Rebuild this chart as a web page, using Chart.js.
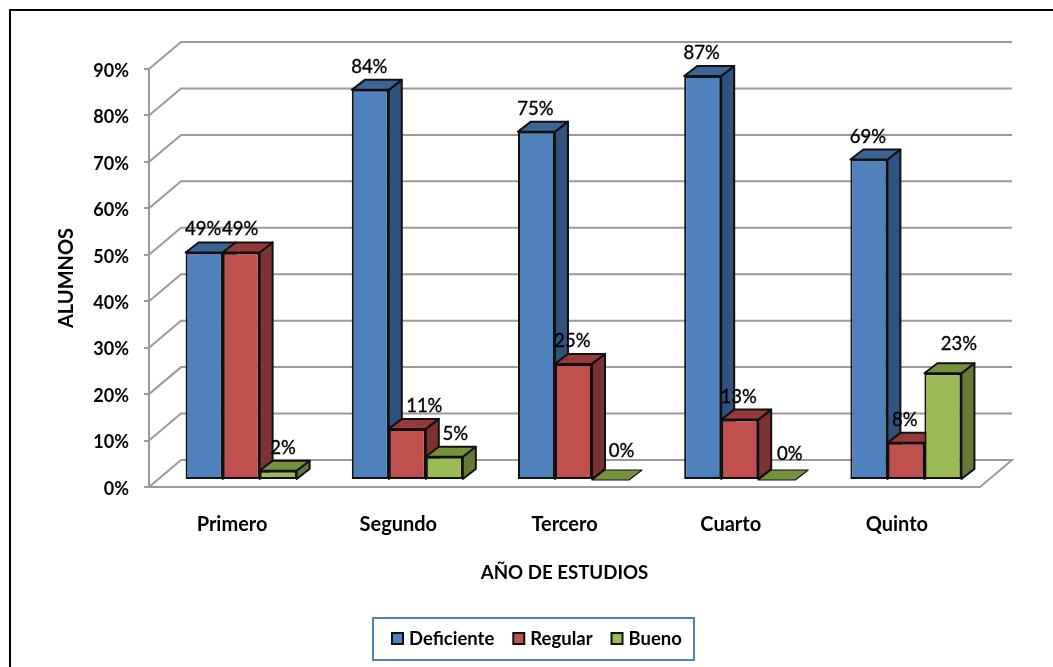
<!DOCTYPE html>
<html>
<head>
<meta charset="utf-8">
<title>Año de estudios</title>
<script src="https://cdn.jsdelivr.net/npm/chart.js@4"></script>
<style>
    html, body { margin: 0; padding: 0; background: #fff; overflow: hidden; }
    canvas { display: block; }
</style>
</head>
<body>
<canvas id="grafico" width="1053" height="667"></canvas>
<script>
let years = ["Primero", "Segundo", "Tercero", "Cuarto", "Quinto"];
let deficiente = [49, 84, 75, 87, 69];
let regular = [49, 11, 25, 13, 8];
let bueno = [2, 5, 0, 0, 23];

let fontName = "Lato, 'Open Sans', sans-serif";
let gridColor = "#9a9a9a";

// front, top and side colours of each series
let shades = [
    { front: "#4F81BD", top: "#3C6595", side: "#31527F" },
    { front: "#C0504D", top: "#953A38", side: "#7C3231" },
    { front: "#9BBB59", top: "#75923C", side: "#647A39" }
];

// depth of the floor and of the bars
let wallX = 32, wallY = -27;
let barShiftX = 9, barShiftY = -7;
let depthX = 13, depthY = -10;

// labels that sit clear of the bar next to them: [dataset][category] = [dx, dy]
let labelNudge = {
    "1:1": [18, 0],
    "2:0": [6, 0],
    "2:1": [12, 0],
    "2:2": [12, -6],
    "2:3": [14, -3],
    "2:4": [17, -6]
};

function face(ctx, points, fill, edge) {
    ctx.beginPath();
    ctx.moveTo(points[0][0], points[0][1]);
    for (let i = 1; i < points.length; i++) ctx.lineTo(points[i][0], points[i][1]);
    ctx.closePath();
    ctx.fillStyle = fill;
    ctx.fill();
    ctx.lineWidth = edge;
    ctx.lineJoin = "round";
    ctx.strokeStyle = "#111";
    ctx.stroke();
}

let frameAndWalls = {
    id: "frameAndWalls",
    beforeDatasetsDraw(chart) {
        let ctx = chart.ctx, y = chart.scales.y, area = chart.chartArea;

        ctx.save();
        // page frame, open to the right and at the bottom
        ctx.strokeStyle = "#000";
        ctx.lineWidth = 2;
        ctx.beginPath();
        ctx.moveTo(10, 667);
        ctx.lineTo(10, 10);
        ctx.lineTo(1053, 10);
        ctx.stroke();

        // grid lines running over the floor and up the back wall
        ctx.strokeStyle = gridColor;
        ctx.lineWidth = 2;
        y.ticks.forEach(t => {
            let py = y.getPixelForValue(t.value);
            ctx.beginPath();
            ctx.moveTo(area.left, py);
            ctx.lineTo(area.left + wallX, py + wallY);
            ctx.lineTo(area.right + wallX, py + wallY);
            if (t.value === 0) ctx.lineTo(area.right, py);
            ctx.stroke();
        });
        ctx.restore();

        // side and top faces, left to right; the library paints the fronts after
        ctx.save();
        ctx.translate(barShiftX, barShiftY);
        years.forEach((name, i) => {
            chart.data.datasets.forEach((ds, d) => {
                let bar = chart.getDatasetMeta(d).data[i];
                let left = bar.x - bar.width / 2, right = bar.x + bar.width / 2;
                let top = bar.y, base = bar.base;
                if (top < base) {
                    face(ctx, [[right, top], [right + depthX, top + depthY],
                               [right + depthX, base + depthY], [right, base]], shades[d].side, 2);
                }
                face(ctx, [[left, top], [left + depthX, top + depthY],
                           [right + depthX, top + depthY], [right, top]], shades[d].top, top < base ? 2 : 1.2);
            });
        });
        // left open for the fronts drawn by the library
    },
    afterDatasetsDraw(chart) {
        let ctx = chart.ctx;
        ctx.restore();

        // value labels
        ctx.save();
        ctx.font = "18.5px " + fontName;
        ctx.fillStyle = "#000";
        ctx.strokeStyle = "#000";
        ctx.lineWidth = 0.35;
        ctx.textAlign = "center";
        ctx.textBaseline = "middle";
        chart.data.datasets.forEach((ds, d) => {
            chart.getDatasetMeta(d).data.forEach((bar, i) => {
                let nudge = labelNudge[d + ":" + i] || [0, 0];
                let lx = bar.x + barShiftX + nudge[0] - 1, ly = bar.y + barShiftY - 23 + nudge[1];
                ctx.fillText(ds.data[i] + "%", lx, ly);
                ctx.strokeText(ds.data[i] + "%", lx, ly);
            });
        });
        ctx.restore();

        drawLegend(chart);
    }
};

function drawLegend(chart) {
    let ctx = chart.ctx;
    ctx.save();
    ctx.strokeStyle = "#4F81BD";
    ctx.lineWidth = 2;
    ctx.strokeRect(373, 618, 321, 42);

    ctx.font = "bold 18.5px " + fontName;
    ctx.textBaseline = "middle";
    let x = 392;
    chart.data.datasets.forEach((ds, d) => {
        ctx.fillStyle = shades[d].front;
        ctx.fillRect(x, 633, 11, 11);
        ctx.strokeStyle = "#111";
        ctx.lineWidth = 2;
        ctx.strokeRect(x, 633, 11, 11);
        ctx.fillStyle = "#000";
        ctx.fillText(ds.label, x + 17, 639);
        x += 17 + ctx.measureText(ds.label).width + 19;
    });
    ctx.restore();
}

new Chart(document.getElementById("grafico"), {
    type: "bar",
    data: {
        labels: years,
        datasets: [
            { label: "Deficiente", data: deficiente, backgroundColor: shades[0].front },
            { label: "Regular", data: regular, backgroundColor: shades[1].front },
            { label: "Bueno", data: bueno, backgroundColor: shades[2].front }
        ]
    },
    plugins: [frameAndWalls],
    options: {
        responsive: false,
        animation: false,
        layout: { autoPadding: false, padding: { top: 69, right: 73, left: 0, bottom: 0 } },
        plugins: { legend: { display: false }, tooltip: { enabled: false } },
        datasets: {
            bar: {
                categoryPercentage: 0.668,
                barPercentage: 1,
                borderColor: "#111",
                borderWidth: 2,
                borderSkipped: false
            }
        },
        scales: {
            x: {
                afterFit(scale) { scale.height = 180; },
                grid: { display: false },
                border: { display: true, color: gridColor, width: 2 },
                ticks: {
                    padding: 18,
                    color: "#000",
                    maxRotation: 0,
                    font: { family: fontName, size: 20, weight: "bold" }
                },
                title: {
                    display: true,
                    text: "AÑO DE ESTUDIOS",
                    color: "#000",
                    padding: { top: 0, bottom: 83 },
                    font: { family: fontName, size: 18.7, weight: "bold" }
                }
            },
            y: {
                min: 0,
                max: 90,
                afterFit(scale) { scale.width = 149; },
                grid: { drawOnChartArea: false, color: gridColor, lineWidth: 2, tickLength: 5 },
                border: { display: true, color: gridColor, width: 2 },
                ticks: {
                    stepSize: 10,
                    padding: 15,
                    labelOffset: 2,
                    color: "#000",
                    callback: v => v + "%",
                    font: { family: fontName, size: 18, weight: "bold" }
                },
                title: {
                    display: true,
                    text: "ALUMNOS",
                    color: "#000",
                    padding: { top: 55, bottom: 0 },
                    font: { family: fontName, size: 20, weight: "bold" }
                }
            }
        }
    }
});
</script>
</body>
</html>
